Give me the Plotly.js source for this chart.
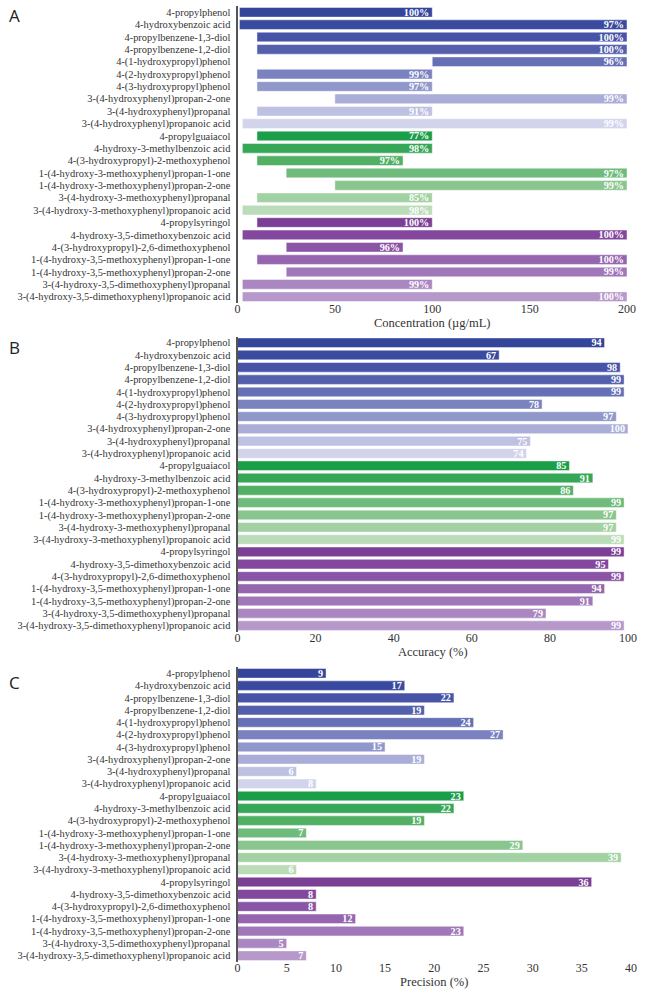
<!DOCTYPE html>
<html><head><meta charset="utf-8">
<script src="https://cdn.plot.ly/plotly-3.0.1.min.js"></script>
<style>html,body{margin:0;padding:0;background:#fff}#chart{width:662px;height:992px}</style>
</head><body><div id="chart"></div>
<script>
const compounds = [
  '4-propylphenol','4-hydroxybenzoic acid','4-propylbenzene-1,3-diol','4-propylbenzene-1,2-diol',
  '4-(1-hydroxypropyl)phenol','4-(2-hydroxypropyl)phenol','4-(3-hydroxypropyl)phenol',
  '3-(4-hydroxyphenyl)propan-2-one','3-(4-hydroxyphenyl)propanal','3-(4-hydroxyphenyl)propanoic acid',
  '4-propylguaiacol','4-hydroxy-3-methylbenzoic acid','4-(3-hydroxypropyl)-2-methoxyphenol',
  '1-(4-hydroxy-3-methoxyphenyl)propan-1-one','1-(4-hydroxy-3-methoxyphenyl)propan-2-one',
  '3-(4-hydroxy-3-methoxyphenyl)propanal','3-(4-hydroxy-3-methoxyphenyl)propanoic acid',
  '4-propylsyringol','4-hydroxy-3,5-dimethoxybenzoic acid','4-(3-hydroxypropyl)-2,6-dimethoxyphenol',
  '1-(4-hydroxy-3,5-methoxyphenyl)propan-1-one','1-(4-hydroxy-3,5-methoxyphenyl)propan-2-one',
  '3-(4-hydroxy-3,5-dimethoxyphenyl)propanal','3-(4-hydroxy-3,5-dimethoxyphenyl)propanoic acid'
];
// Panel A: linear range (µg/mL) and recovery (%)
const concStart = [1, 1, 10, 10, 100, 10, 10, 50, 10, 2.5, 10, 2.5, 10, 25, 50, 10, 2.5, 10, 2.5, 25, 10, 25, 2.5, 2.5];
const concEnd   = [100, 200, 200, 200, 200, 100, 100, 200, 100, 200, 100, 100, 85, 200, 200, 100, 100, 100, 200, 85, 200, 200, 100, 200];
const recovery  = [100, 97, 100, 100, 96, 99, 97, 99, 91, 99, 77, 98, 97, 97, 99, 85, 98, 100, 100, 96, 100, 99, 99, 100];
// Panel B: accuracy (%)
const accuracy  = [94, 67, 98, 99, 99, 78, 97, 100, 75, 74, 85, 91, 86, 99, 97, 97, 99, 99, 95, 99, 94, 91, 79, 99];
// Panel C: precision (%)
const precision = [9, 17, 22, 19, 24, 27, 15, 19, 6, 8, 23, 22, 19, 7, 29, 39, 6, 36, 8, 8, 12, 23, 5, 7];

const concTicks = [0, 50, 100, 150, 200];
const accTicks = [0, 20, 40, 60, 80, 100];
const precTicks = [0, 5, 10, 15, 20, 25, 30, 35, 40];

const barColors = [
  '#34459a','#3a4b9f','#4653a6','#5560ad','#6670b6','#7a82c0','#9097ca','#a9add8','#bec1e2','#d2d4ec',
  '#1b9e48','#36a657','#52b065','#6ebb7b','#88c68e','#a2d1a3','#badcb8',
  '#7b3f96','#83489e','#8b55a6','#9565af','#a177ba','#ab87c2','#b698cb'
];

const W = 662, H = 992;
const px = x => x / W;
const py = y => 1 - y / H;
const serif = '"Liberation Serif", "Times New Roman", serif';

function barTrace(xa, ya, x, text, base) {
  const t = {
    type: 'bar', orientation: 'h', y: compounds, x: x, xaxis: xa, yaxis: ya,
    marker: {color: barColors, line: {color: 'rgba(255,255,255,0.45)', width: 1}},
    text: text, textposition: 'inside', insidetextanchor: 'end', constraintext: 'none', textangle: 0,
    textfont: {family: serif, size: 10.2, color: '#ffffff', weight: 700},
    hoverinfo: 'skip', showlegend: false
  };
  if (base) t.base = base;
  return t;
}

const traces = [
  barTrace('x', 'y', concEnd.map((e, i) => e - concStart[i]), recovery.map(v => v + '%'), concStart),
  barTrace('x2', 'y2', accuracy, accuracy.map(String)),
  barTrace('x3', 'y3', precision, precision.map(String))
];

function xax(domain, range, ticks, title, anchor) {
  return {
    domain: domain, range: range, tickmode: 'array', tickvals: ticks, anchor: anchor,
    showgrid: false, zeroline: false, showline: false, ticks: '', ticklabelstandoff: -3,
    tickfont: {family: serif, size: 12, color: '#333'},
    title: {text: title, font: {family: serif, size: 12.5, color: '#333'}, standoff: 0}
  };
}
function yax(domain, anchor) {
  return {
    domain: domain, anchor: anchor, autorange: 'reversed', type: 'category',
    tickmode: 'array', tickvals: compounds,
    showgrid: false, zeroline: false, showline: true, linecolor: '#555', linewidth: 2,
    ticks: '', ticklabelstandoff: 3,
    tickfont: {family: serif, size: 10.4, color: '#333'}
  };
}

const letters = [['A', 16], ['B', 347], ['C', 682]].map(([t, y]) => ({
  text: t, xref: 'paper', yref: 'paper', x: px(14), y: py(y), xanchor: 'center', yanchor: 'middle',
  showarrow: false, font: {family: 'Open Sans, DejaVu Sans, sans-serif', size: 17, color: '#222'}
}));

const layout = {
  width: W, height: H, margin: {l: 0, r: 0, t: 0, b: 0},
  paper_bgcolor: '#fff', plot_bgcolor: '#fff', bargap: 0.22,
  xaxis:  xax([px(237.5), px(627)], [0, 200], concTicks, 'Concentration (µg/mL)', 'y'),
  yaxis:  yax([py(302.9), py(6.1)], 'x'),
  xaxis2: xax([px(237.5), px(628)], [0, 100], accTicks, 'Accuracy (%)', 'y2'),
  yaxis2: yax([py(631.8), py(336.6)], 'x2'),
  xaxis3: xax([px(237.5), px(631)], [0, 40], precTicks, 'Precision (%)', 'y3'),
  yaxis3: yax([py(961.8), py(667.2)], 'x3'),
  annotations: letters
};

Plotly.newPlot('chart', traces, layout, {staticPlot: true, displayModeBar: false});
</script></body></html>
